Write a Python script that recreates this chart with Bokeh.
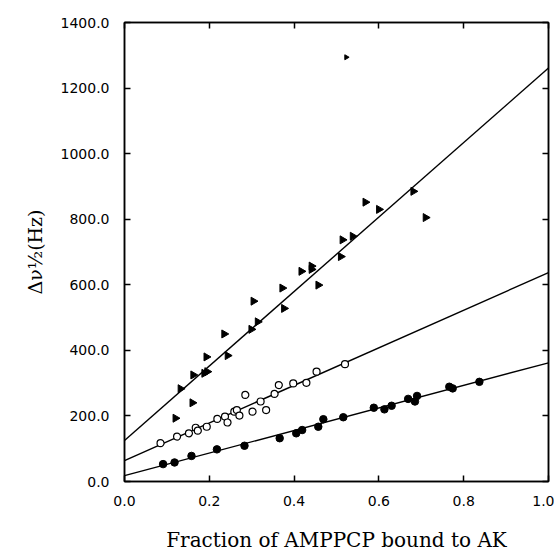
import math
from bokeh.plotting import figure
from bokeh.models import Range1d, FixedTicker, PrintfTickFormatter, LinearAxis
from bokeh.embed import file_html
from bokeh.resources import INLINE

# ---- data ----
tri_x = [0.120, 0.132, 0.162, 0.160, 0.188, 0.195, 0.193, 0.235, 0.243, 0.299,
         0.304, 0.314, 0.372, 0.376, 0.417, 0.441, 0.441, 0.457, 0.510, 0.514,
         0.538, 0.568, 0.600, 0.681, 0.710]
tri_y = [193, 283, 325, 240, 330, 335, 380, 450, 384, 464,
         550, 487, 590, 528, 641, 657, 647, 599, 686, 737,
         748, 852, 830, 885, 805]
tri_out_x = [0.523]
tri_out_y = [1294]

open_x = [0.085, 0.124, 0.152, 0.168, 0.173, 0.194, 0.219, 0.237, 0.243, 0.259,
          0.265, 0.271, 0.285, 0.302, 0.321, 0.334, 0.354, 0.364, 0.398, 0.429,
          0.453, 0.520]
open_y = [117, 137, 147, 164, 155, 167, 191, 198, 180, 213,
          218, 201, 264, 213, 244, 218, 267, 294, 299, 301,
          335, 358]

filled_x = [0.091, 0.118, 0.158, 0.218, 0.283, 0.366, 0.405, 0.419, 0.457, 0.469,
            0.516, 0.588, 0.613, 0.630, 0.669, 0.685, 0.690, 0.766, 0.774, 0.837]
filled_y = [53, 58, 78, 98, 109, 132, 147, 157, 167, 190,
            196, 225, 220, 231, 252, 244, 261, 289, 284, 304]

fit_x = [0.0, 1.0]
tri_fit = [125, 1261]
open_fit = [64, 637]
filled_fit = [18, 362]

x_ticks = [0.0, 0.2, 0.4, 0.6, 0.8, 1.0]
y_ticks = [0, 200, 400, 600, 800, 1000, 1200, 1400]

x_label = "Fraction of AMPPCP bound to AK"
y_label = "\u0394\u03bd\u00bd(Hz)"

# ---- figure ----
p = figure(width=554, height=554, output_backend="svg", toolbar_location=None,
           x_range=Range1d(0, 1.0), y_range=Range1d(0, 1400),
           min_border_left=124, min_border_right=6, min_border_top=22,
           min_border_bottom=73)
p.grid.visible = False
p.outline_line_color = "black"
p.outline_line_width = 1.5
p.background_fill_color = "white"
p.border_fill_color = "white"

def style_axis(ax, labels=True):
    ax.axis_line_color = "black"
    ax.axis_line_width = 1.5
    ax.major_tick_in = 6
    ax.major_tick_out = 0
    ax.major_tick_line_width = 1.5
    ax.minor_tick_line_color = None
    if labels:
        ax.major_label_text_font = "DejaVu Sans"
        ax.major_label_text_font_size = "14px"
        ax.major_label_text_color = "black"
    else:
        ax.major_label_text_font_size = "0px"
        ax.major_label_text_color = None
        ax.major_label_standoff = 0

xa = p.xaxis[0]
ya = p.yaxis[0]
xa.ticker = FixedTicker(ticks=x_ticks)
ya.ticker = FixedTicker(ticks=y_ticks)
xa.formatter = PrintfTickFormatter(format="%.1f")
ya.formatter = PrintfTickFormatter(format="%.1f")
style_axis(xa)
style_axis(ya)
xa.major_label_standoff = 14
ya.major_label_standoff = 15
xa.axis_label = x_label
ya.axis_label = y_label
for ax in (xa, ya):
    ax.axis_label_text_font = "DejaVu Serif"
    ax.axis_label_text_font_style = "normal"
    ax.axis_label_text_color = "black"
xa.axis_label_text_font_size = "20px"
ya.axis_label_text_font_size = "19px"
xa.axis_label_standoff = 19
ya.axis_label_standoff = 12

top = LinearAxis(ticker=FixedTicker(ticks=x_ticks))
style_axis(top, labels=False)
p.add_layout(top, "above")
right = LinearAxis(ticker=FixedTicker(ticks=y_ticks))
style_axis(right, labels=False)
p.add_layout(right, "right")

# ---- fit lines ----
for fy in (tri_fit, open_fit, filled_fit):
    p.line(fit_x, fy, line_color="black", line_width=1.4)

# ---- markers ----
p.scatter(tri_x, tri_y, marker="triangle", size=8, angle=-math.pi / 2,
          fill_color="black", line_color="black")
p.scatter(tri_out_x, tri_out_y, marker="triangle", size=5, angle=-math.pi / 2,
          fill_color="black", line_color="black")
p.scatter(open_x, open_y, marker="circle", size=7, fill_color="white",
          line_color="black", line_width=1.2)
p.scatter(filled_x, filled_y, marker="circle", size=7.5, fill_color="black",
          line_color="black")

open("out.html", "w").write(file_html(p, INLINE))
